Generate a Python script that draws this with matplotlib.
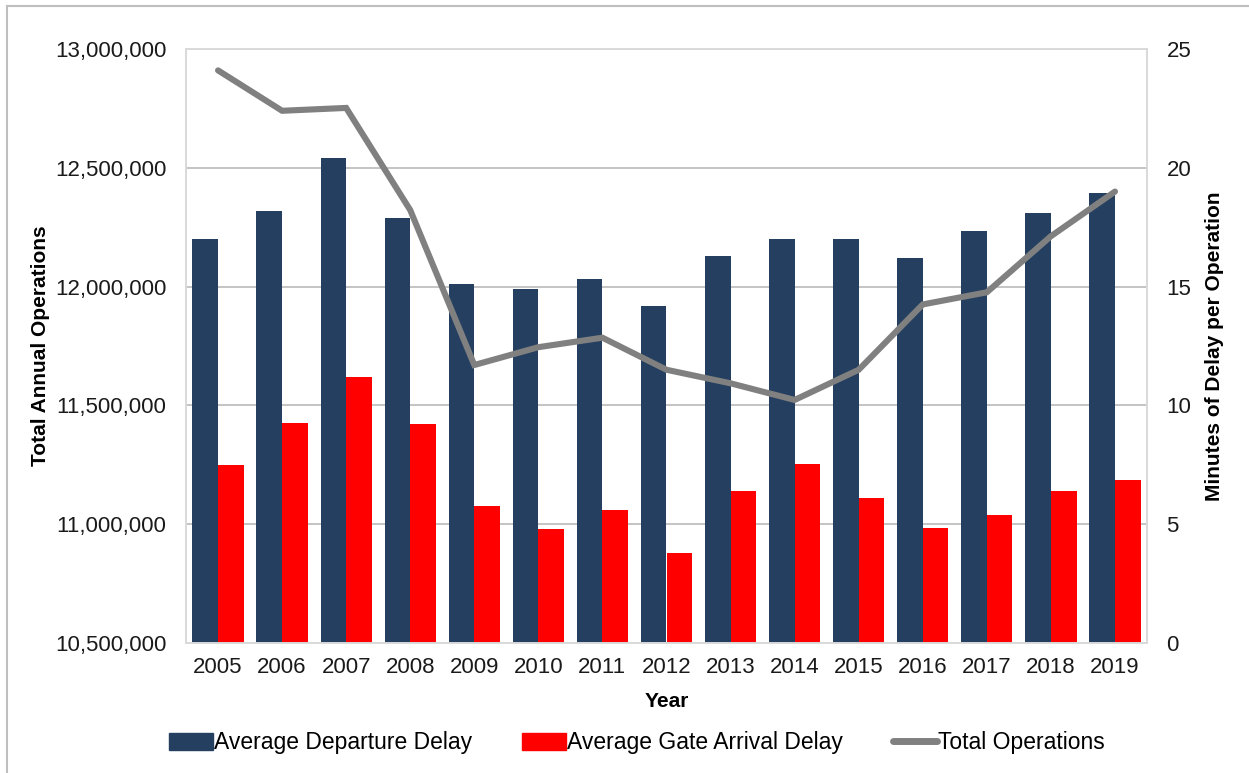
"""Delay minutes per operation (bars) and total annual operations (line), 2005-2019."""

import matplotlib.pyplot as plt
import numpy as np
from matplotlib.lines import Line2D
from matplotlib.patches import Patch
from matplotlib.ticker import FuncFormatter

plt.rcParams['font.family'] = ['Liberation Sans', 'DejaVu Sans']

# Data
years = ['2005', '2006', '2007', '2008', '2009', '2010', '2011', '2012',
         '2013', '2014', '2015', '2016', '2017', '2018', '2019']
departure_delay = [17.0, 18.2, 20.4, 17.9, 15.1, 14.9, 15.3, 14.2,
                   16.3, 17.0, 17.0, 16.2, 17.35, 18.1, 18.95]
arrival_delay = [7.5, 9.25, 11.2, 9.2, 5.75, 4.8, 5.6, 3.8,
                 6.4, 7.55, 6.1, 4.85, 5.4, 6.4, 6.85]
total_operations = [12_910_000, 12_740_000, 12_752_000, 12_322_000, 11_670_000,
                    11_745_000, 11_785_000, 11_650_000, 11_593_000, 11_523_000,
                    11_650_000, 11_925_000, 11_976_000, 12_212_000, 12_400_000]

navy = '#243F60'
red = '#FF0000'
grey = '#808080'
spine = '#D9D9D9'

fig = plt.figure(figsize=(12.49, 7.73), dpi=100)
ax = fig.add_axes([186 / 1249, 130 / 773, 961 / 1249, 594 / 773])
ax2 = ax.twinx()

# Bars live on the right axis, the line on the left one; keep the line on top
ax.set_zorder(ax2.get_zorder() + 1)
ax.patch.set_visible(False)

x = np.arange(len(years))
w = 0.4
ax2.bar(x - w / 2, departure_delay, w, color=navy, zorder=2)
ax2.bar(x + w / 2, arrival_delay, w, color=red, zorder=2)
ax.plot(x, total_operations, color=grey, lw=4.4, solid_capstyle='round',
        solid_joinstyle='miter')

ax.set_xlim(-0.5, len(years) - 0.5)
ax.set_ylim(10_500_000, 13_000_000)
ax.set_yticks(np.arange(10_500_000, 13_000_001, 500_000))
ax.yaxis.set_major_formatter(FuncFormatter(lambda v, _: f'{v:,.0f}'))
ax2.set_ylim(0, 25)
ax2.set_yticks(np.arange(0, 26, 5))

ax.set_xticks(x)
ax.set_xticklabels(years)

# Gridlines sit behind the bars, so draw them on the bar axis
ax2.set_axisbelow(True)
ax2.grid(axis='y', color='#BFBFBF', lw=1.3)
ax.grid(False)

for a in (ax, ax2):
    a.tick_params(length=0, labelsize=16, colors='#1A1A1A')
    for s in a.spines.values():
        s.set_color(spine)
        s.set_linewidth(1.2)
ax.tick_params(axis='y', pad=14)
ax2.tick_params(axis='y', pad=14)
ax.tick_params(axis='x', pad=10)

ax.set_xlabel('Year', fontsize=15, fontweight='bold', labelpad=10)
ax.set_ylabel('Total Annual Operations', fontsize=15, fontweight='bold', labelpad=4)
ax2.set_ylabel('Minutes of Delay per Operation', fontsize=15, fontweight='bold',
               labelpad=10)

handles = [Patch(color=navy), Patch(color=red),
           Line2D([0], [0], color=grey, lw=5, solid_capstyle='round')]
labels = ['Average Departure Delay', 'Average Gate Arrival Delay', 'Total Operations']
fig.legend(handles, labels, loc='center', bbox_to_anchor=(0.51, 30 / 773), ncol=3,
           frameon=False, fontsize=16.5, handlelength=1.9, handletextpad=0.05,
           columnspacing=2.2)

# Thin frame around the chart area
fig.add_artist(Line2D([7 / 1249, 7 / 1249], [0, 1 - 6 / 773],
                      transform=fig.transFigure, color='#BFBFBF', lw=1.5))
fig.add_artist(Line2D([7 / 1249, 1], [1 - 6 / 773, 1 - 6 / 773],
                      transform=fig.transFigure, color='#BFBFBF', lw=1.5))

plt.savefig('out.png', dpi=100)
